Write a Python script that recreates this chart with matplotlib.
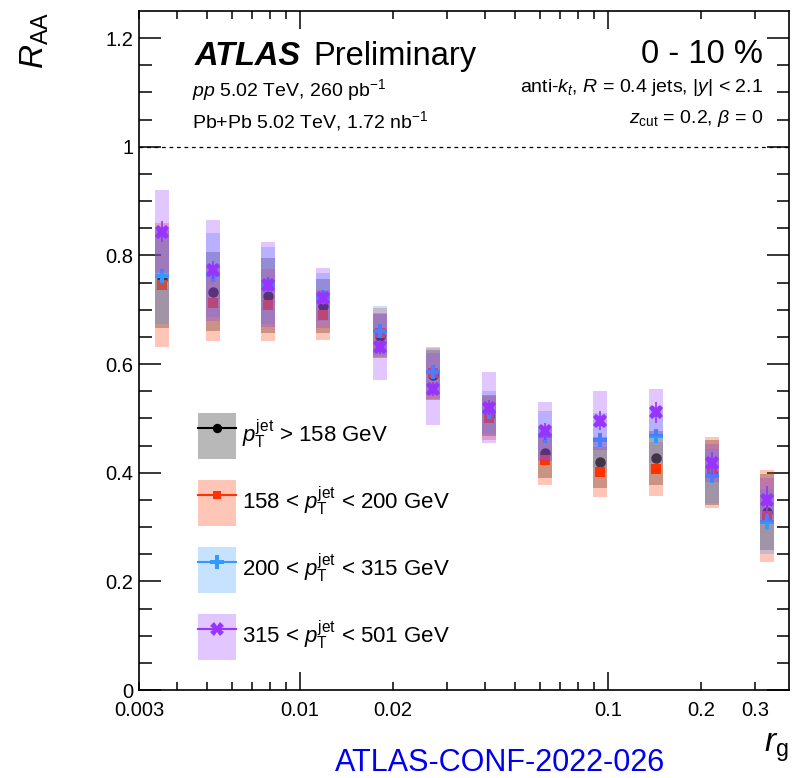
import numpy as np
import matplotlib
matplotlib.use("Agg")
import matplotlib.pyplot as plt
from matplotlib.ticker import FixedLocator, FuncFormatter
from matplotlib.patches import Patch
from matplotlib.lines import Line2D

plt.rcParams['font.family'] = ['Liberation Sans', 'DejaVu Sans']
plt.rcParams['mathtext.fontset'] = 'custom'
plt.rcParams['mathtext.rm'] = 'Liberation Sans'
plt.rcParams['mathtext.it'] = 'Liberation Sans:italic'
plt.rcParams['mathtext.bf'] = 'Liberation Sans:bold'

# r_g bin centres
rg = [0.00356, 0.00521, 0.00787, 0.0119, 0.0182, 0.0270,
      0.0411, 0.0624, 0.0942, 0.143, 0.218, 0.328]

# R_AA values, systematic and statistical uncertainties per pT bin
raa_all = [0.757, 0.733, 0.726, 0.707, 0.652, 0.580, 0.505, 0.436, 0.419, 0.427, 0.400, 0.328]
sys_all = [0.090, 0.073, 0.069, 0.050, 0.040, 0.046, 0.038, 0.046, 0.047, 0.050, 0.060, 0.070]
stat_all = [0.008, 0.006, 0.005, 0.005, 0.005, 0.005, 0.005, 0.006, 0.007, 0.008, 0.010, 0.012]

raa_158 = [0.746, 0.713, 0.709, 0.691, 0.658, 0.583, 0.501, 0.424, 0.402, 0.407, 0.400, 0.320]
sys_158 = [0.114, 0.070, 0.066, 0.046, 0.045, 0.048, 0.040, 0.046, 0.046, 0.050, 0.065, 0.085]
stat_158 = [0.010, 0.008, 0.007, 0.007, 0.007, 0.007, 0.007, 0.008, 0.009, 0.010, 0.012, 0.015]

raa_200 = [0.763, 0.764, 0.745, 0.724, 0.661, 0.586, 0.511, 0.468, 0.460, 0.468, 0.394, 0.310]
sys_200 = [0.090, 0.077, 0.071, 0.044, 0.045, 0.043, 0.040, 0.045, 0.050, 0.050, 0.050, 0.060]
stat_200 = [0.010, 0.008, 0.007, 0.007, 0.007, 0.007, 0.007, 0.008, 0.010, 0.011, 0.013, 0.016]

raa_315 = [0.844, 0.773, 0.746, 0.722, 0.632, 0.554, 0.520, 0.476, 0.496, 0.511, 0.417, 0.350]
sys_315 = [0.077, 0.093, 0.078, 0.055, 0.062, 0.066, 0.065, 0.054, 0.055, 0.044, 0.035, 0.040]
stat_315 = [0.020, 0.016, 0.014, 0.013, 0.013, 0.013, 0.013, 0.015, 0.018, 0.020, 0.022, 0.025]

labels = [r'$p_{\mathrm{T}}^{\mathrm{jet}}$ > 158 GeV',
          r'158 < $p_{\mathrm{T}}^{\mathrm{jet}}$ < 200 GeV',
          r'200 < $p_{\mathrm{T}}^{\mathrm{jet}}$ < 315 GeV',
          r'315 < $p_{\mathrm{T}}^{\mathrm{jet}}$ < 501 GeV']

series = [
    (raa_all, sys_all, stat_all, '#000000', 'o', 7.5),
    (raa_158, sys_158, stat_158, '#ff3300', 's', 7.0),
    (raa_200, sys_200, stat_200, '#3399ff', 'P', 10.5),
    (raa_315, sys_315, stat_315, '#9933ff', 'X', 10.5),
]

fig = plt.figure(figsize=(7.92, 7.78), dpi=100)
ax = fig.add_axes([0.1755, 0.1131, 0.8207, 0.8728])
ax.set_xscale('log')

x = np.array(rg)
half = 0.0227  # half box width in decades
left = x * 10 ** (-half)
width = x * 10 ** half - left

handles = []
for i, (val, sy, st, col, mk, ms) in enumerate(series):
    val = np.array(val)
    sy = np.array(sy)
    ax.bar(left, 2 * sy, bottom=val - sy, width=width, align='edge',
           color=col, alpha=0.28, linewidth=0, zorder=2 + 2 * i)
    ax.errorbar(x, val, yerr=st, fmt=mk, color=col, ms=ms, mew=0,
                elinewidth=1.2, capsize=0, zorder=3 + 2 * i)
    handles.append((Patch(facecolor=col, alpha=0.28, linewidth=0),
                    Line2D([], [], color=col, marker=mk, ms=ms * 0.9, mew=0, lw=1.5)))

ax.axhline(1.0, color='k', lw=0.9, ls=(0, (3, 3)), zorder=1)

ax.set_xlim(0.003, 0.387)
ax.set_ylim(0, 1.25)

# ticks, ROOT/ATLAS style
ax.xaxis.set_major_locator(FixedLocator([0.01, 0.1]))
ax.xaxis.set_major_formatter(FuncFormatter(lambda v, p: f'{v:g}'))
minors = [0.003, 0.004, 0.005, 0.006, 0.007, 0.008, 0.009,
          0.02, 0.03, 0.04, 0.05, 0.06, 0.07, 0.08, 0.09, 0.2, 0.3]
minor_labels = {0.003: '0.003', 0.02: '0.02', 0.2: '0.2', 0.3: '0.3'}
ax.xaxis.set_minor_locator(FixedLocator(minors))
ax.xaxis.set_minor_formatter(FuncFormatter(
    lambda v, p: minor_labels.get(round(v, 4), '')))
ax.set_yticks([0, 0.2, 0.4, 0.6, 0.8, 1.0, 1.2])
ax.set_yticklabels(['0', '0.2', '0.4', '0.6', '0.8', '1', '1.2'])
ax.yaxis.set_minor_locator(FixedLocator(np.arange(0.05, 1.25, 0.05)))

ax.tick_params(axis='both', which='both', direction='in', top=True, right=True,
               labelsize=14.5, width=1.1)
ax.tick_params(axis='x', which='major', length=13, pad=8)
ax.tick_params(axis='x', which='minor', length=6, pad=8)
ax.tick_params(axis='y', which='major', length=16, pad=4)
ax.tick_params(axis='y', which='minor', length=9)
for s in ax.spines.values():
    s.set_linewidth(1.2)

# header texts
t_atlas = fig.text(195 / 792, 1 - 65 / 778, 'ATLAS', fontsize=23.5,
                   fontweight='bold', fontstyle='italic', ha='left', va='baseline')
fig.canvas.draw()
bb = t_atlas.get_window_extent()
fig.text((bb.x1 + 12) / 792, 1 - 65 / 778, 'Preliminary', fontsize=23.5,
         ha='left', va='baseline')
fig.text(763 / 792, 1 - 63 / 778, '0 - 10 %', fontsize=23.5, ha='right', va='baseline')
fig.text(192 / 792, 1 - 96 / 778, r'$\it{pp}$ 5.02 TeV, 260 pb$^{\mathrm{-1}}$',
         fontsize=14, ha='left', va='baseline')
fig.text(192 / 792, 1 - 128 / 778, r'Pb+Pb 5.02 TeV, 1.72 nb$^{\mathrm{-1}}$',
         fontsize=14, ha='left', va='baseline')
fig.text(763 / 792, 1 - 92 / 778,
         r'anti-$k_{t}$, $R$ = 0.4 jets, |$y$| < 2.1',
         fontsize=14, ha='right', va='baseline')
fig.text(763 / 792, 1 - 123 / 778,
         r'$z_{\mathrm{cut}}$ = 0.2, $\beta$ = 0',
         fontsize=14, ha='right', va='baseline')

fig.text(35 / 792, 1 - 40 / 778, r'$R_{\mathrm{AA}}$', fontsize=24,
         rotation=90, ha='center', va='center')
fig.text(776 / 792, 1 - 748 / 778, r'$r_{\mathrm{g}}$', fontsize=24,
         ha='center', va='center')
fig.text(500 / 792, 0.0, 'ATLAS-CONF-2022-026', fontsize=22,
         color='#0000ee', ha='center', va='bottom')

leg = fig.legend(handles, labels, loc='upper left',
                 bbox_to_anchor=(198 / 792, 1 - 413 / 778),
                 frameon=False, fontsize=16, borderpad=0, borderaxespad=0,
                 handlelength=1.7, handleheight=2.8, handletextpad=0.3,
                 labelspacing=0.95)

fig.savefig('out.png', dpi=100)
